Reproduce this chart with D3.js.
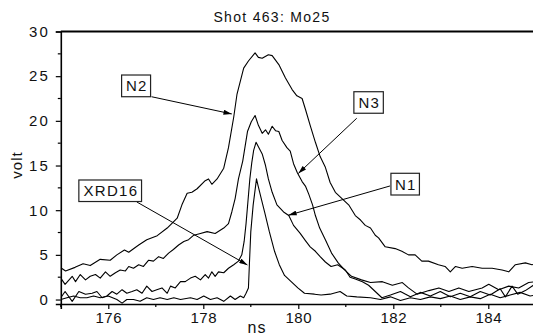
<!DOCTYPE html>
<html><head><meta charset="utf-8">
<script src="https://cdn.jsdelivr.net/npm/d3@7/dist/d3.min.js"></script>
<style>
html,body{margin:0;padding:0;background:#fff;overflow:hidden}
text{font-family:Arial,"Liberation Sans",sans-serif;fill:#111}
</style></head>
<body><svg id="c" width="533" height="335"></svg>
<script>
// ---- data (ns, volt) ----
const n2Time=[175.00,175.10,175.30,175.47,175.62,175.83,176.04,176.18,176.34,176.43,176.64,176.81,177.03,177.24,177.45,177.55,177.66,177.76,177.87,178.04,178.11,178.18,178.29,178.43,178.53,178.64,178.71,178.85,178.95,179.09,179.16,179.24,179.37,179.45,179.59,179.73,179.87,179.97,180.08,180.15,180.25,180.36,180.46,180.57,180.67,180.78,180.92,181.06,181.20,181.31,181.41,181.52,181.62,181.69,181.83,182.04,182.18,182.32,182.46,182.60,182.74,182.95,183.09,183.20,183.31,183.45,183.66,183.87,184.08,184.29,184.43,184.57,184.78,184.92,185.00];
const n2Volt=[3.55,3.2,3.6,4.0,3.8,4.5,4.4,5.0,5.55,5.3,6.1,6.7,7.15,8.0,9.1,10.6,11.9,12.0,12.4,13.3,13.5,12.9,13.5,14.7,17.0,20.4,23.0,25.9,26.7,27.6,27.1,27.0,27.4,27.3,26.3,24.8,23.5,22.8,22.5,21.3,19.5,17.6,16.0,14.8,13.1,12.0,11.3,10.6,9.4,8.9,8.3,8.0,7.2,6.9,5.9,5.7,5.4,5.0,5.0,4.3,4.3,3.9,3.7,3.1,3.7,3.5,3.7,3.5,3.5,3.3,3.1,3.9,4.1,3.9,4.0];

const n3Time=[175.00,175.09,175.24,175.31,175.41,175.52,175.62,175.73,175.83,175.94,176.04,176.15,176.25,176.36,176.43,176.53,176.64,176.74,176.85,176.95,177.06,177.16,177.27,177.37,177.48,177.59,177.69,177.80,177.94,178.08,178.25,178.43,178.53,178.60,178.67,178.74,178.83,178.93,179.01,179.09,179.16,179.24,179.31,179.37,179.45,179.52,179.59,179.66,179.76,179.83,179.90,179.98,180.08,180.15,180.22,180.30,180.36,180.45,180.57,180.70,180.84,180.98,181.12,181.33,181.52,181.77,181.98,182.19,182.32,182.50,182.75,182.96,183.17,183.38,183.59,183.87,184.01,184.22,184.43,184.64,184.85,185.00];
const n3Volt=[2.4,1.7,2.6,2.0,2.8,2.2,2.6,2.8,2.4,3.1,2.6,3.0,3.3,3.2,3.7,3.5,3.9,3.7,4.4,4.3,4.8,4.6,5.2,5.6,6.1,6.5,6.7,7.2,7.4,7.6,7.4,8.0,8.5,9.8,11.3,13.5,15.5,18.8,19.9,20.6,19.5,18.6,19.0,18.5,19.4,18.9,18.8,17.8,17.0,16.6,15.2,14.2,13.2,12.7,11.8,10.6,9.4,8.0,6.7,5.2,4.1,3.3,2.6,2.2,1.9,2.0,1.6,1.9,1.3,0.6,1.0,1.3,0.9,1.3,0.9,1.3,1.7,1.1,1.5,1.3,1.9,2.0];

const n1Time=[175.00,175.09,175.24,175.38,175.52,175.66,175.76,175.87,175.97,176.08,176.18,176.29,176.39,176.50,176.60,176.71,176.81,176.92,177.02,177.13,177.24,177.31,177.41,177.52,177.62,177.73,177.83,177.94,178.04,178.11,178.18,178.25,178.32,178.43,178.53,178.64,178.74,178.81,178.86,178.90,178.94,178.98,179.02,179.06,179.11,179.16,179.24,179.31,179.37,179.45,179.55,179.62,179.69,179.80,179.90,180.04,180.15,180.25,180.36,180.46,180.57,180.69,180.83,180.99,181.09,181.20,181.35,181.48,181.62,181.76,181.94,182.15,182.36,182.57,182.78,182.99,183.20,183.41,183.62,183.83,184.04,184.25,184.36,184.50,184.62,184.78,184.95,185.00];
const n1Volt=[0.2,0.9,-0.2,0.9,0.6,0.7,0.9,0.2,0.4,0.9,0.6,1.1,0.7,0.9,1.1,0.7,1.5,0.9,1.1,1.3,0.7,1.5,1.3,2.0,2.0,2.4,2.6,2.2,2.8,2.4,3.1,2.6,3.1,3.0,3.5,3.9,4.3,5.0,6.5,8.5,11.0,13.5,15.3,16.7,17.6,17.1,16.3,15.0,13.5,12.0,10.6,10.2,9.8,9.4,8.3,7.4,6.6,5.9,5.4,4.8,4.2,3.7,3.9,3.3,2.5,2.3,2.0,1.6,0.9,0.2,0.5,0.9,0.3,0.8,0.4,0.9,0.3,0.7,0.3,0.9,0.5,1.2,0.3,1.5,0.6,1.0,1.6,1.5];

const xrdTime=[175.00,175.13,175.27,175.41,175.55,175.69,175.83,176.00,176.18,176.29,176.39,176.53,176.67,176.81,176.95,177.09,177.24,177.38,177.52,177.73,177.87,178.01,178.15,178.29,178.43,178.57,178.67,178.78,178.85,178.90,178.95,178.97,179.00,179.05,179.12,179.15,179.22,179.29,179.39,179.50,179.60,179.71,179.85,179.99,180.13,180.34,180.48,180.67,180.88,181.02,181.23,181.52,181.73,181.94,182.15,182.36,182.57,182.78,182.99,183.20,183.41,183.62,183.83,184.04,184.25,184.46,184.67,184.88,185.00];
const xrdVolt=[0.0,0.2,0.4,0.2,0.2,0.4,0.2,0.4,0.0,-0.4,0.0,0.0,-0.2,0.2,0.0,0.2,0.0,0.2,0.0,0.2,0.0,0.4,0.0,0.2,-0.2,0.4,0.0,0.4,0.2,0.7,1.3,3.9,7.6,10.6,13.5,12.8,11.3,9.8,7.6,5.4,3.9,2.7,2.0,1.3,0.7,0.6,0.5,0.6,0.9,0.4,0.3,0.2,0.0,0.3,-0.1,0.2,0.0,0.3,0.1,0.4,0.0,0.3,0.1,0.6,0.2,0.5,0.8,0.4,0.5];

const seriesNames=["N2","N3","N1","XRD16"];
const xTicks=[176,178,180,182,184];
const yTicks=[0,5,10,15,20,25,30];
const titleText="Shot 463: Mo25";
const xLabel="ns", yLabel="volt";

// ---- drawing ----
const svg=d3.select("#c");
const x=d3.scaleLinear().domain([175,185]).range([60.8,535.8]);
const y=d3.scaleLinear().domain([-0.5,30]).range([304,31.5]);

const defs=svg.append("defs");
defs.append("marker").attr("id","ah").attr("viewBox","0 0 10 6").attr("refX",10).attr("refY",3)
  .attr("markerWidth",9).attr("markerHeight",5).attr("markerUnits","userSpaceOnUse").attr("orient","auto")
  .append("path").attr("d","M0,0L10,3L0,6Z").attr("fill","#000");

const series=[
  {name:"N2",t:n2Time,v:n2Volt},
  {name:"N3",t:n3Time,v:n3Volt},
  {name:"N1",t:n1Time,v:n1Volt},
  {name:"XRD16",t:xrdTime,v:xrdVolt}
];
const clip=defs.append("clipPath").attr("id","pc").append("rect")
  .attr("x",x(175)).attr("y",y(30)).attr("width",x(185)-x(175)).attr("height",y(-0.5)-y(30));
const line=d3.line().x(d=>x(d[0])).y(d=>y(d[1]));
svg.append("g").attr("clip-path","url(#pc)").selectAll("path").data(series).join("path")
  .attr("d",s=>line(s.t.map((t,i)=>[t,s.v[i]])))
  .attr("fill","none").attr("stroke","#000").attr("stroke-width",1.1).attr("stroke-linejoin","round");

// axes
const xAxis=d3.axisBottom(x).tickValues(xTicks).tickFormat(d3.format("d")).tickSize(5).tickPadding(3);
const gx=svg.append("g").attr("transform",`translate(0,${y(-0.5)})`).call(xAxis);
gx.select(".domain").attr("stroke-width",1.6);
gx.selectAll(".tick line").attr("stroke-width",1.2);
gx.selectAll("text").attr("font-size",15).attr("letter-spacing","0.6px").attr("fill","#111");
gx.selectAll(".minor").data(d3.range(175,186,2)).join("line").attr("class","minor")
  .attr("x1",d=>x(d)).attr("x2",d=>x(d)).attr("y1",0).attr("y2",3).attr("stroke","#000").attr("stroke-width",1.2);

const yAxis=d3.axisLeft(y).tickValues(yTicks).tickSize(5).tickPadding(6);
const gy=svg.append("g").attr("transform",`translate(${x(175)},0)`).call(yAxis);
gy.select(".domain").attr("stroke-width",1.6);
gy.selectAll(".tick line").attr("stroke-width",1.2);
gy.selectAll("text").attr("font-size",15).attr("letter-spacing","2px").attr("fill","#111");
gy.selectAll(".minor").data(d3.range(2.5,30,5)).join("line").attr("class","minor")
  .attr("y1",d=>y(d)).attr("y2",d=>y(d)).attr("x1",0).attr("x2",-3).attr("stroke","#000").attr("stroke-width",1.2);

// top frame
svg.append("line").attr("x1",x(175)).attr("x2",x(185)).attr("y1",y(30)).attr("y2",y(30))
  .attr("stroke","#000").attr("stroke-width",1.8);

// titles
svg.append("text").attr("x",272).attr("y",21.5).attr("text-anchor","middle")
  .attr("font-size",14).attr("letter-spacing","1.3px").text(titleText);
svg.append("text").attr("x",257).attr("y",333).attr("text-anchor","middle")
  .attr("font-size",16).attr("letter-spacing","1px").text(xLabel);
svg.append("text").attr("transform","translate(22,165) rotate(-90)").attr("text-anchor","middle")
  .attr("font-size",15).attr("letter-spacing","1px").text(yLabel);

// annotations (data coords): box corners and arrow from/to
const notes=[
  {name:"N2",box:[176.28,25.13,176.89,22.70],from:[176.91,22.70],to:[178.60,20.77]},
  {name:"N3",box:[181.17,23.26,181.79,20.85],from:[181.23,20.29],to:[180.00,14.11]},
  {name:"N1",box:[181.95,14.13,182.55,11.70],from:[181.93,12.71],to:[179.79,9.43]},
  {name:"XRD16",box:[175.38,13.38,176.70,10.97],from:[176.60,10.92],to:[178.93,3.87]}
];
const ga=svg.append("g");
notes.forEach(n=>{
  ga.append("line").attr("x1",x(n.from[0])).attr("y1",y(n.from[1])).attr("x2",x(n.to[0])).attr("y2",y(n.to[1]))
    .attr("stroke","#000").attr("stroke-width",1).attr("marker-end","url(#ah)");
  const x0=x(n.box[0]),y0=y(n.box[1]),x1=x(n.box[2]),y1=y(n.box[3]);
  ga.append("rect").attr("x",x0).attr("y",y0).attr("width",x1-x0).attr("height",y1-y0)
    .attr("fill","#fff").attr("stroke","#222").attr("stroke-width",1.2);
  ga.append("text").attr("x",(x0+x1)/2+0.7).attr("y",(y0+y1)/2+5.5).attr("text-anchor","middle")
    .attr("font-size",15).attr("letter-spacing","1.3px").text(n.name);
});
</script></body></html>
